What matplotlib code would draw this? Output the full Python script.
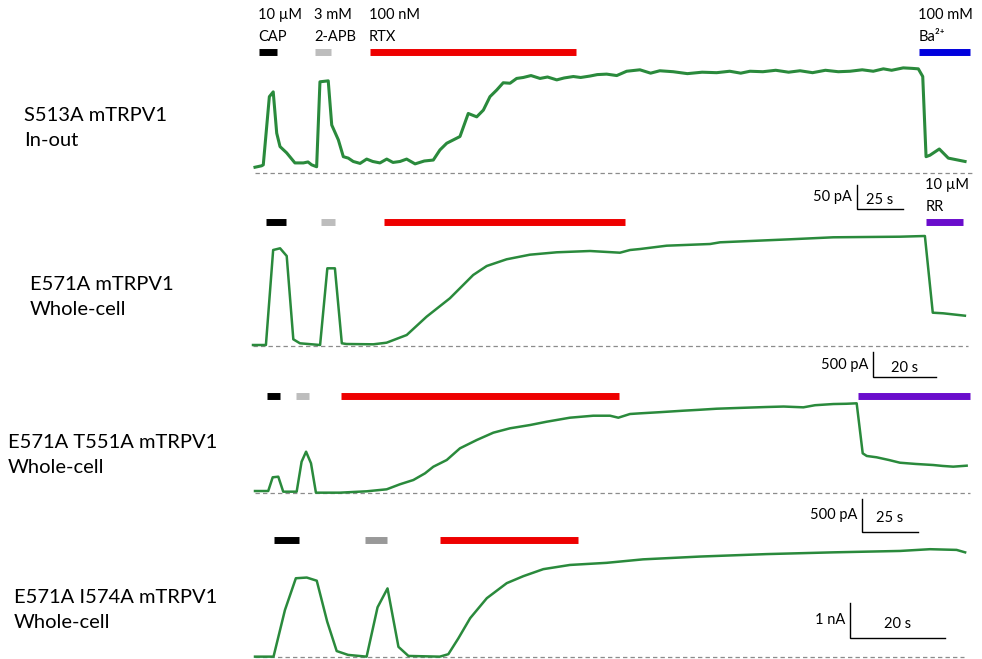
import matplotlib
matplotlib.use("Agg")
import matplotlib.pyplot as plt

# ---------------- data (time in s, current in pA / nA) ----------------
# Panel 1: S513A mTRPV1 In-out (pA)
p1_t = [0, 3.6, 4.5, 7.8, 9.9, 11.8, 13.6, 17.2, 21.7, 26.3, 28.8, 30.8, 33.5, 35.3, 39.8,
        41.7, 45.3, 48.0, 50.7, 53.4, 57.1, 60.7, 64.0, 67.9, 71.6, 75.0, 78.8, 82.4, 87.0, 92.0,
        96.9, 100.5, 104.2, 107.8, 111.4, 115.9, 120.5, 124.1, 127.7, 131.4, 134.9, 138.6, 142.2,
        145.8, 150.0, 154.9, 159.0, 164.0, 168.0, 173.0, 177.0, 182.1, 186.0, 191.1, 196.6, 202.0,
        209.2, 215.0, 220.0, 227.3, 235.0, 243.0, 250.9, 258.0, 264.0, 269.0, 276.0, 283.0, 290.0,
        296.2, 303.0, 310.0, 317.0, 323.4, 330.0, 336.0, 341.5, 346.0, 352.3, 357.0, 360.5,
        362.9, 364.7, 366.8, 371.9, 376.8, 385.9]
p1_i = [12, 15, 17, 159, 169, 83, 55, 42, 21, 21, 23, 17, 13, 190, 192,
        100, 69, 34, 31, 24, 20, 29, 24, 21, 29, 22, 24, 29, 19, 25,
        27, 48, 62, 69, 76, 124, 117, 131, 159, 173, 188, 187, 197,
        199, 203, 197, 200, 194, 198, 201, 199, 202, 205, 206, 203, 212,
        215, 208, 213, 211, 207, 210, 209, 212, 208, 212, 211, 214, 210,
        213, 209, 214, 211, 212, 215, 212, 217, 214, 219, 218, 217,
        201, 34, 37, 50, 31, 24]
p1_labels = ["10 µM\nCAP", "3 mM\n2-APB", "100 nM\nRTX", "100 mM\nBa²⁺"]
p1_on = [2.3, 32.6, 62.5, 361.0]
p1_off = [11.8, 41.1, 174.5, 388.6]
p1_colors = ["#000000", "#bdbdbd", "#ee0000", "#0000dd"]
p1_scale = ("50 pA", 50, "25 s", 25)

# Panel 2: E571A mTRPV1 Whole-cell (pA)
p2_t = [0, 4.1, 6.4, 8.6, 10.7, 12.8, 14.9, 21.3, 23.6, 26.0, 28.2, 29.7, 38.2, 42.4, 48.8,
        55.1, 62.5, 69.9, 74.2, 80.5, 87.9, 96.4, 107.0, 116.5, 119.7, 122.9, 131.3, 145.1,
        148.3, 170.5, 184.2, 205.4, 213.3, 215.8, 219.1, 226.0]
p2_i = [20, 20, 1920, 1954, 1800, 134, 54, 20, 1554, 1554, 54, 40, 34, 66, 220,
        586, 954, 1420, 1600, 1734, 1826, 1874, 1900, 1866, 1920, 1940, 2006, 2040,
        2074, 2134, 2174, 2186, 2200, 666, 654, 606]
p2_labels = ["", "", "", "10 µM\nRR"]
p2_on = [4.1, 21.6, 41.7, 213.7]
p2_off = [10.4, 26.0, 118.1, 225.5]
p2_colors = ["#000000", "#bdbdbd", "#ee0000", "#6a0dcc"]
p2_scale = ("500 pA", 500, "20 s", 20)

# Panel 3: E571A T551A mTRPV1 Whole-cell (pA)
p3_t = [0, 5.9, 7.9, 10.4, 12.6, 18.6, 20.8, 22.8, 25.0, 27.2, 37.9, 49.9, 58.8, 64.7, 70.7,
        75.9, 79.6, 85.6, 91.5, 99.0, 106.4, 113.8, 122.8, 130.2, 140.6, 151.0, 158.5, 162.2,
        167.4, 171.9, 181.0, 191.2, 198.0, 206.1, 217.0, 228.4, 236.0, 244.8, 250.0, 258.2,
        264.0, 268.6, 271.3, 273.1, 277.5, 283.0, 287.9, 295.0, 302.8, 307.0, 311.7, 317.7]
p3_i = [30, 30, 238, 247, 20, 20, 474, 626, 450, 5, 5, 26, 56, 132, 197,
        298, 398, 500, 677, 803, 914, 980, 1030, 1080, 1141, 1171, 1171, 1141,
        1197, 1207, 1225, 1247, 1260, 1277, 1290, 1303, 1310, 1298, 1330, 1348,
        1352, 1359, 601, 561, 541, 500, 459, 440, 424, 410, 399, 414]
p3_labels = ["", "", "", ""]
p3_on = [5.5, 18.2, 38.4, 269.1]
p3_off = [11.2, 24.1, 162.6, 319.2]
p3_colors = ["#000000", "#bdbdbd", "#ee0000", "#6a0dcc"]
p3_scale = ("500 pA", 500, "25 s", 25)

# Panel 4: E571A I574A mTRPV1 Whole-cell (nA)
p4_t = [0, 3.9, 6.3, 8.6, 10.9, 13.0, 15.2, 17.2, 19.6, 23.5, 25.8, 27.9, 30.2, 32.3, 38.9,
        40.7, 42.8, 45.3, 48.8, 53.0, 56.5, 60.7, 66.3, 74.0, 81.7, 93.7, 107.7, 121.7,
        135.8, 142.1, 147.7, 149.5]
p4_i = [0.01, 0.01, 1.34, 2.25, 2.27, 2.18, 1.01, 0.17, 0.06, 0.01, 1.42, 1.96, 0.29, 0.03, 0.01,
        0.08, 0.53, 1.11, 1.68, 2.11, 2.31, 2.51, 2.63, 2.69, 2.79, 2.87, 2.94, 2.99,
        3.03, 3.08, 3.06, 2.99]
p4_labels = ["", "", "", ""]
p4_on = [4.0, 23.2, 38.9]
p4_off = [9.3, 27.8, 67.9]
p4_colors = ["#000000", "#999999", "#ee0000"]
p4_scale = ("1 nA", 1, "20 s", 20)

names = ["S513A mTRPV1\nIn-out", "E571A mTRPV1\nWhole-cell",
         "E571A T551A mTRPV1\nWhole-cell", "E571A I574A mTRPV1\nWhole-cell"]

# ---------------- layout (pixels) ----------------
W, H = 982, 659
plt.rcParams['font.family'] = ['Lato', 'DejaVu Sans']

fig = plt.figure(figsize=(W / 100, H / 100), dpi=100)
fig.patch.set_facecolor('white')

GREEN = '#2a8a3c'

panels = [
    dict(t=p1_t, i=p1_i, labels=p1_labels, on=p1_on, off=p1_off, colors=p1_colors, scale=p1_scale,
         x0=255, y0=173, pxs=46 / 25, pyu=24 / 50, bar_y=52, dash_end=972, corner=(857, 209),
         lw=2.2, label_y=8),
    dict(t=p2_t, i=p2_i, labels=p2_labels, on=p2_on, off=p2_off, colors=p2_colors, scale=p2_scale,
         x0=253, y0=346, pxs=63 / 20, pyu=25 / 500, bar_y=221.5, dash_end=968, corner=(873, 377),
         lw=1.8, label_y=178),
    dict(t=p3_t, i=p3_i, labels=p3_labels, on=p3_on, off=p3_off, colors=p3_colors, scale=p3_scale,
         x0=255, y0=493, pxs=56 / 25, pyu=33 / 500, bar_y=396, dash_end=970, corner=(862, 532),
         lw=1.8, label_y=0),
    dict(t=p4_t, i=p4_i, labels=p4_labels, on=p4_on, off=p4_off, colors=p4_colors, scale=p4_scale,
         x0=255, y0=657, pxs=95 / 20, pyu=35 / 1, bar_y=540, dash_end=964, corner=(850, 638),
         lw=1.8, label_y=0),
]
name_pos = [(24, 128), (30, 297), (8, 455), (14, 610)]

for k, p in enumerate(panels):
    ax = fig.add_axes([0, 0, 1, 1])
    x0, y0, pxs, pyu = p['x0'], p['y0'], p['pxs'], p['pyu']
    ax.set_xlim(-x0 / pxs, (W - x0) / pxs)
    ax.set_ylim((y0 - H) / pyu, y0 / pyu)
    ax.axis('off')
    ax.patch.set_alpha(0)

    def dx(px):
        return (px - x0) / pxs

    def dy(py):
        return (y0 - py) / pyu

    # dashed zero line
    ax.plot([0, dx(p['dash_end'])], [0, 0], color='#8c8c8c', lw=0.9,
            dashes=(3.5, 2.5))
    # trace
    ax.plot(p['t'], p['i'], color=GREEN, lw=p['lw'], solid_joinstyle='round')
    # drug bars
    lvl = dy(p['bar_y'])
    for on, off, c, lab in zip(p['on'], p['off'], p['colors'], p['labels']):
        ax.plot([on, off], [lvl, lvl], color=c, lw=5, solid_capstyle='butt')
        if lab:
            ax.text(on - 1.0 / pxs, dy(p['label_y']), lab, ha='left', va='top',
                    fontsize=10.5, linespacing=1.75)
    # scale bar
    ylab, yval, xlab, xval = p['scale']
    cx, cy = dx(p['corner'][0]), dy(p['corner'][1])
    ax.plot([cx, cx, cx + xval], [cy + yval, cy, cy], color='black', lw=1.0,
            solid_joinstyle='miter')
    ax.text(cx - 5 / pxs, cy + yval / 2, ylab, ha='right', va='center', fontsize=10.5)
    ax.text(cx + xval / 2, cy + yval / 2 - 3 / pyu, xlab, ha='center', va='center', fontsize=10.5)

for nm, (x, y) in zip(names, name_pos):
    fig.text(x / W, 1 - y / H, nm, ha='left', va='center', fontsize=14.5, linespacing=1.6)

fig.savefig('out.png', dpi=100)
